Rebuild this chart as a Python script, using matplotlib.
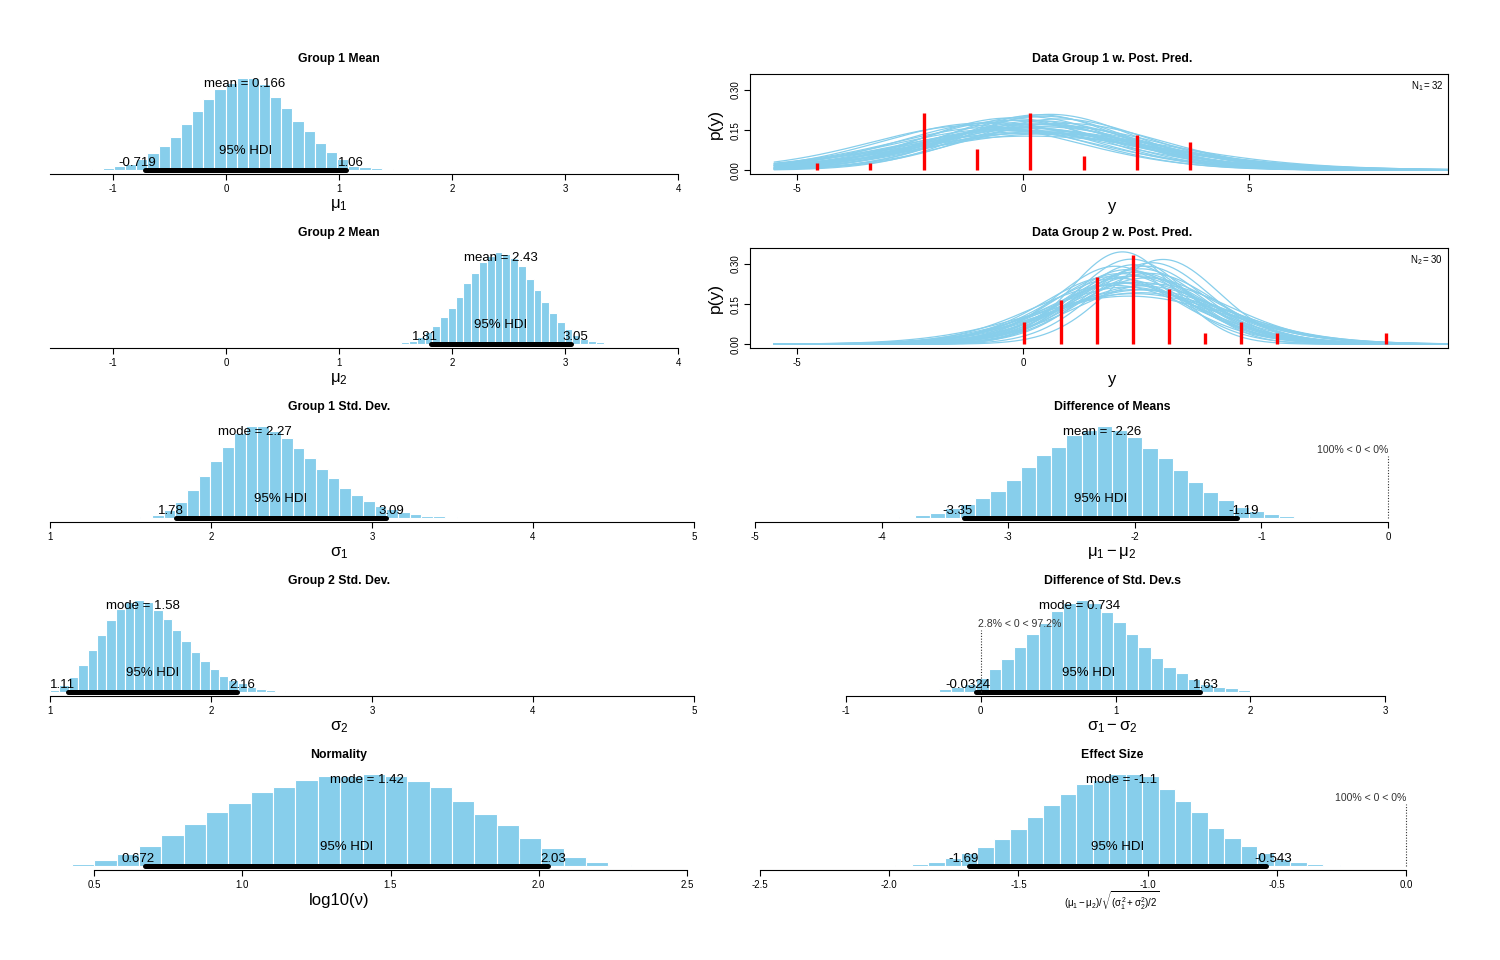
import math
import numpy as np
import matplotlib
matplotlib.use('Agg')
import matplotlib.pyplot as plt

plt.rcParams['font.family'] = ['Liberation Sans', 'DejaVu Sans']
plt.rcParams['mathtext.fontset'] = 'custom'
plt.rcParams['mathtext.rm'] = 'Liberation Sans'
plt.rcParams['mathtext.it'] = 'Liberation Sans'
plt.rcParams['mathtext.bf'] = 'Liberation Sans:bold'

# ---- posterior histograms (bin start, bin width, relative density per bin) ----
mu1_start, mu1_bin = -1.19, 0.0988
mu1_dens = [0.011, 0.022, 0.043, 0.065, 0.126, 0.188, 0.267, 0.365, 0.498, 0.639,
            0.765, 0.877, 0.939, 1.0, 1.0, 0.928, 0.787, 0.671, 0.534, 0.422,
            0.296, 0.195, 0.119, 0.051, 0.040, 0.029, 0.014, 0.007]
mu1_hdi, mu1_mean = [-0.719, 1.06], 0.166

mu2_start, mu2_bin = 1.55, 0.0689
mu2_dens = [0.02, 0.04, 0.08, 0.13, 0.20, 0.29, 0.39, 0.51, 0.66, 0.77,
            0.89, 0.95, 1.0, 0.98, 0.93, 0.85, 0.71, 0.59, 0.46, 0.34,
            0.24, 0.16, 0.10, 0.06, 0.035, 0.02]
mu2_hdi, mu2_mean = [1.81, 3.05], 2.43

sigma1_start, sigma1_bin = 1.56, 0.0728
sigma1_dens = [0.01, 0.036, 0.09, 0.18, 0.31, 0.46, 0.62, 0.77, 0.92, 1.0,
               1.0, 0.94, 0.87, 0.76, 0.65, 0.53, 0.43, 0.33, 0.25, 0.19,
               0.13, 0.10, 0.07, 0.05, 0.03, 0.02, 0.015, 0.008]
sigma1_hdi, sigma1_mode = [1.78, 3.09], 2.27

sigma2_start, sigma2_bin = 1.0, 0.0583
sigma2_dens = [0.03, 0.08, 0.17, 0.30, 0.46, 0.62, 0.78, 0.90, 0.98, 1.0,
               0.97, 0.89, 0.79, 0.67, 0.55, 0.44, 0.34, 0.25, 0.18, 0.13,
               0.10, 0.055, 0.035, 0.022, 0.015, 0.01, 0.006]
sigma2_hdi, sigma2_mode = [1.11, 2.16], 1.58

nu_start, nu_bin = 0.35, 0.0754
nu_dens = [0.007, 0.03, 0.066, 0.128, 0.22, 0.337, 0.458, 0.586, 0.685, 0.799,
           0.853, 0.93, 0.98, 0.98, 1.0, 0.98, 0.916, 0.853, 0.707, 0.568,
           0.447, 0.311, 0.194, 0.103, 0.051, 0.015]
nu_hdi, nu_mode = [0.672, 2.03], 1.42

dmean_start, dmean_bin = -3.86, 0.12
dmean_dens = [0.018, 0.036, 0.061, 0.107, 0.157, 0.214, 0.296, 0.418, 0.55, 0.682,
              0.775, 0.896, 0.954, 1.0, 0.954, 0.882, 0.764, 0.65, 0.525, 0.393,
              0.282, 0.196, 0.12, 0.08, 0.05, 0.029, 0.014, 0.007]
dmean_hdi, dmean_mean, dmean_pct = [-3.35, -1.19], -2.26, [100, 0]

dsd_start, dsd_bin = -0.495, 0.0924
dsd_dens = [0.007, 0.018, 0.032, 0.054, 0.09, 0.15, 0.25, 0.364, 0.49, 0.625,
            0.75, 0.882, 0.964, 1.0, 0.964, 0.864, 0.757, 0.625, 0.493, 0.375,
            0.275, 0.204, 0.143, 0.089, 0.061, 0.043, 0.029, 0.014, 0.007]
dsd_hdi, dsd_mode, dsd_pct = [-0.0324, 1.63], 0.734, [2.8, 97.2]

eff_start, eff_bin = -1.977, 0.0637
eff_dens = [0.011, 0.025, 0.05, 0.089, 0.14, 0.204, 0.293, 0.407, 0.536, 0.657,
            0.786, 0.893, 0.936, 0.993, 1.0, 0.971, 0.832, 0.707, 0.582, 0.418,
            0.311, 0.214, 0.143, 0.082, 0.05, 0.021, 0.011]
eff_hdi, eff_mode, eff_pct = [-1.69, -0.543], -1.1, [100, 0]

# ---- data with posterior predictive curves ----
y1_mid = [-4.56, -3.38, -2.20, -1.02, 0.16, 1.34, 2.52, 3.70]
y1_dens = [0.027, 0.027, 0.213, 0.080, 0.213, 0.053, 0.133, 0.106]
y1_n = 32
y2_mid = [0.03, 0.83, 1.63, 2.43, 3.23, 4.03, 4.83, 5.63, 8.03]
y2_dens = [0.083, 0.167, 0.250, 0.333, 0.208, 0.042, 0.083, 0.042, 0.042]
y2_n = 30

# credible (mu, sigma, nu) draws for the curves
pp1_mu = [0.20, 0.45, -0.10, 0.60, -0.60, 0.30, 0.05, 0.70, -0.30, 0.15,
          0.55, -0.90, 0.35, 0.00, 0.80, -0.20, 0.40, 0.10, -0.45, 0.65,
          0.25, -0.05, 0.50, -0.70, 0.90, 0.20, -0.25, 0.35, 0.05, -1.10]
pp1_sigma = [2.30, 1.95, 2.50, 1.90, 2.20, 2.75, 2.10, 2.40, 2.00, 3.10,
             2.60, 2.25, 2.15, 2.35, 2.05, 2.65, 2.45, 1.98, 2.55, 2.85,
             2.20, 2.90, 2.30, 2.40, 2.25, 2.70, 2.12, 1.88, 2.50, 2.35]
pp1_nu = [30, 20, 40, 60, 15, 8, 25, 50, 12, 35,
          6, 45, 70, 5, 18, 28, 90, 40, 22, 14,
          9, 55, 33, 7, 26, 16, 48, 11, 65, 20]
pp2_mu = [2.40, 2.20, 3.10, 2.55, 2.30, 2.65, 2.45, 2.10, 2.80, 2.35,
          2.50, 2.00, 2.70, 2.25, 2.60, 2.40, 2.90, 2.15, 2.50, 2.75,
          2.30, 2.60, 1.95, 2.45, 2.85, 2.20, 2.55, 2.05, 2.65, 2.40]
pp2_sigma = [1.55, 1.15, 1.25, 1.70, 1.40, 1.95, 1.30, 1.60, 1.50, 2.20,
             1.45, 1.80, 1.35, 1.65, 2.05, 1.25, 1.75, 1.50, 1.90, 1.60,
             1.85, 1.40, 1.55, 2.10, 1.30, 1.70, 1.55, 1.35, 1.80, 1.48]
pp2_nu = [30, 60, 40, 20, 12, 45, 8, 25, 70, 35,
          15, 50, 22, 6, 28, 90, 18, 40, 10, 55,
          33, 26, 14, 65, 38, 9, 48, 20, 16, 75]

W, H = 1500, 960
BAR = '#87CEEB'
TICK_FS = 7
fig = plt.figure(figsize=(W / 100, H / 100), dpi=100)
adj_items = []


def add_ax(l, r, top, bot):
    return fig.add_axes([l / W, 1 - bot / H, (r - l) / W, (bot - top) / H])


def calib(l, r, v0, p0, v1, p1):
    k = (p1 - p0) / (v1 - v0)
    return v0 + (l - p0) / k, v0 + (r - p0) / k


def adj_text(ax, x, y, s, hadj, dy, **kw):
    t = ax.annotate(s, (x, y), xytext=(0, dy), textcoords='offset points',
                    ha='left', va='baseline', **kw)
    adj_items.append((t, hadj, dy))


def t_pdf(x, mu, s, nu):
    c = math.exp(math.lgamma((nu + 1) / 2) - math.lgamma(nu / 2)) / (math.sqrt(nu * math.pi) * s)
    return c * (1 + ((x - mu) / s) ** 2 / nu) ** (-(nu + 1) / 2)


def hist_panel(row, col, start, width, dens, hdi, center, cname, title, xlabel,
               ticks, ticklabels, cal, line_lo=None, pct=None, xl_size=12):
    l, r, cx = (50, 700, 339) if col == 0 else (750, 1448, 1112)
    top = 74 + 174 * row
    bot = top + 100
    ax = add_ax(l, r, top, bot)
    ax.set_xlim(*calib(l, r, *cal))
    m = max(dens)
    ax.set_ylim(-0.04 * m, 1.04 * m)
    edges = start + width * np.arange(len(dens))
    ax.bar(edges, dens, width=width, align='edge', color=BAR,
           edgecolor='white', linewidth=0.8)
    ax.plot(hdi, [0, 0], color='black', lw=3.6, solid_capstyle='round')
    for sp in ['top', 'right', 'left']:
        ax.spines[sp].set_visible(False)
    ax.spines['bottom'].set_linewidth(0.8)
    lo = ax.get_xlim()[0] if line_lo is None else line_lo
    ax.spines['bottom'].set_bounds(lo, ticks[-1])
    ax.set_xticks(ticks)
    ax.set_xticklabels(ticklabels, fontsize=TICK_FS)
    ax.tick_params(axis='x', length=4, width=0.8, pad=3)
    ax.set_yticks([])
    ax.patch.set_visible(False)
    fig.text(cx / W, 1 - (top - 12) / H, title, ha='center', va='baseline',
             fontsize=8.8, fontweight='bold')
    fig.text(cx / W, 1 - (bot + 31) / H, xlabel, ha='center', va='center',
             fontsize=xl_size)
    ax.text(center, 0.9 * m, f'{cname} = {center:.3g}', ha='center',
            va='baseline', fontsize=9.5)
    cap = 0.72 * 9.5
    ax.annotate('95% HDI', (sum(hdi) / 2, 0), xytext=(0, 1.7 * cap),
                textcoords='offset points', ha='center', va='baseline', fontsize=9.5)
    adj_text(ax, hdi[0], 0, f'{hdi[0]:.3g}', 0.7, 0.5 * cap, fontsize=9.5)
    adj_text(ax, hdi[1], 0, f'{hdi[1]:.3g}', 0.3, 0.5 * cap, fontsize=9.5)
    if pct is not None:
        ax.plot([0, 0], [0, 0.672 * m], color='#333333', lw=0.8, ls=(0, (1, 1.5)))
        adj_text(ax, 0, 0.7 * m, f'{pct[0]:g}% < 0 < {pct[1]:g}%', pct[0] / 100, 0,
                 fontsize=7.6, color='#333333')
    return ax


def pp_panel(row, mids, dens, mus, sigmas, nus, title, nlab):
    top = 74 + 174 * row
    bot = top + 100
    ax = add_ax(750, 1448, top, bot)
    ax.set_xlim(*calib(750, 1448, -5, 797, 5, 1249))
    ax.set_ylim(-0.014, 0.36)
    xg = np.linspace(-5.5, 9.5, 300)
    for mu, s, nu in zip(mus, sigmas, nus):
        ax.plot(xg, t_pdf(xg, mu, s, nu), color=BAR, lw=0.9)
    ax.vlines(mids, 0, dens, color='red', lw=2.4)
    for sp in ax.spines.values():
        sp.set_linewidth(0.8)
    ax.set_xticks([-5, 0, 5])
    ax.set_xticklabels(['-5', '0', '5'], fontsize=TICK_FS)
    ax.set_yticks([0, 0.15, 0.30])
    ax.set_yticklabels(['0.00', '0.15', '0.30'], fontsize=TICK_FS, rotation=90, va='center')
    ax.tick_params(length=4, width=0.8, pad=3)
    ax.text(0.993, 0.95, nlab, transform=ax.transAxes, ha='right', va='top', fontsize=7)
    fig.text(1112 / W, 1 - (top - 12) / H, title, ha='center', va='baseline',
             fontsize=8.8, fontweight='bold')
    fig.text(1112 / W, 1 - (bot + 32) / H, 'y', ha='center', va='center', fontsize=12)
    fig.text(715 / W, 1 - (top + 50) / H, 'p(y)', ha='center', va='center',
             fontsize=12.5, rotation=90)


hist_panel(0, 0, mu1_start, mu1_bin, mu1_dens, mu1_hdi, mu1_mean, 'mean',
           'Group 1 Mean', r'$\mu_1$', [-1, 0, 1, 2, 3, 4],
           ['-1', '0', '1', '2', '3', '4'], (-1, 113, 4, 678))
hist_panel(1, 0, mu2_start, mu2_bin, mu2_dens, mu2_hdi, mu2_mean, 'mean',
           'Group 2 Mean', r'$\mu_2$', [-1, 0, 1, 2, 3, 4],
           ['-1', '0', '1', '2', '3', '4'], (-1, 113, 4, 678))
hist_panel(2, 0, sigma1_start, sigma1_bin, sigma1_dens, sigma1_hdi, sigma1_mode, 'mode',
           'Group 1 Std. Dev.', r'$\sigma_1$', [1, 2, 3, 4, 5],
           ['1', '2', '3', '4', '5'], (1, 50, 5, 694), line_lo=1)
hist_panel(3, 0, sigma2_start, sigma2_bin, sigma2_dens, sigma2_hdi, sigma2_mode, 'mode',
           'Group 2 Std. Dev.', r'$\sigma_2$', [1, 2, 3, 4, 5],
           ['1', '2', '3', '4', '5'], (1, 50, 5, 694), line_lo=1)
hist_panel(4, 0, nu_start, nu_bin, nu_dens, nu_hdi, nu_mode, 'mode',
           'Normality', 'log10(ν)', [0.5, 1.0, 1.5, 2.0, 2.5],
           ['0.5', '1.0', '1.5', '2.0', '2.5'], (0.5, 94, 2.5, 687), line_lo=0.5)

pp_panel(0, y1_mid, y1_dens, pp1_mu, pp1_sigma, pp1_nu,
         'Data Group 1 w. Post. Pred.', r'$\mathrm{N_1 = %d}$' % y1_n)
pp_panel(1, y2_mid, y2_dens, pp2_mu, pp2_sigma, pp2_nu,
         'Data Group 2 w. Post. Pred.', r'$\mathrm{N_2 = %d}$' % y2_n)

hist_panel(2, 1, dmean_start, dmean_bin, dmean_dens, dmean_hdi, dmean_mean, 'mean',
           'Difference of Means', r'$\mu_1 - \mu_2$', [-5, -4, -3, -2, -1, 0],
           ['-5', '-4', '-3', '-2', '-1', '0'], (-5, 755, 0, 1388), line_lo=-5,
           pct=dmean_pct)
hist_panel(3, 1, dsd_start, dsd_bin, dsd_dens, dsd_hdi, dsd_mode, 'mode',
           'Difference of Std. Dev.s', r'$\sigma_1 - \sigma_2$', [-1, 0, 1, 2, 3],
           ['-1', '0', '1', '2', '3'], (-1, 846, 3, 1385), line_lo=-1,
           pct=dsd_pct)
hist_panel(4, 1, eff_start, eff_bin, eff_dens, eff_hdi, eff_mode, 'mode',
           'Effect Size', r'$(\mu_1 - \mu_2)/\sqrt{(\sigma_1^2 + \sigma_2^2)/2}$',
           [-2.5, -2.0, -1.5, -1.0, -0.5, 0.0],
           ['-2.5', '-2.0', '-1.5', '-1.0', '-0.5', '0.0'], (-2.5, 760, 0, 1406),
           line_lo=-2.5, pct=eff_pct, xl_size=7)

renderer = fig.canvas.get_renderer()
for t, hadj, dy in adj_items:
    w = t.get_window_extent(renderer).width * 72 / fig.dpi
    t.xyann = (-hadj * w, dy)

fig.savefig('out.png', dpi=100, facecolor='white')
